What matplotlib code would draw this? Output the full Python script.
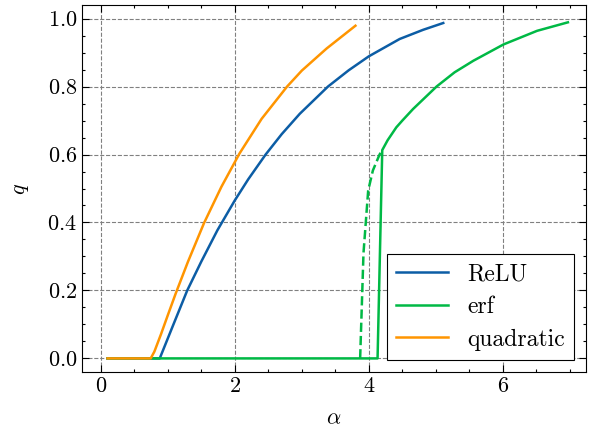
import matplotlib
matplotlib.use("Agg")
import matplotlib.pyplot as plt
from matplotlib.ticker import MultipleLocator

plt.rcParams["font.family"] = "serif"
plt.rcParams["font.serif"] = ["cmr10"]
plt.rcParams["mathtext.fontset"] = "cm"
plt.rcParams["axes.formatter.use_mathtext"] = True
plt.rcParams["font.size"] = 16

relu_x = [0.1, 0.5, 0.88, 1.07, 1.29, 1.5, 1.74, 2.0, 2.2, 2.46, 2.7, 2.97,
          3.39, 3.7, 4.0, 4.46, 4.81, 5.11]
relu_y = [0.0, 0.0, 0.0, 0.093, 0.2, 0.285, 0.377, 0.465, 0.527, 0.6, 0.66, 0.72,
          0.8, 0.848, 0.889, 0.94, 0.967, 0.987]

erf_x = [0.1, 2.0, 4.13, 4.2, 4.28, 4.41, 4.5, 4.66, 5.01, 5.28, 5.56, 6.01, 6.51, 6.97]
erf_y = [0.0, 0.0, 0.0, 0.613, 0.642, 0.68, 0.70, 0.734, 0.8, 0.842, 0.876, 0.924, 0.964, 0.989]

erf_meta_x = [3.87, 3.92, 3.99, 4.06, 4.16, 4.2]
erf_meta_y = [0.0, 0.31, 0.494, 0.553, 0.6, 0.613]

quad_x = [0.1, 0.745, 0.80, 0.9, 1.0, 1.12, 1.3, 1.54, 1.8, 2.07, 2.4, 2.78, 3.0, 3.37, 3.80]
quad_y = [0.0, 0.0, 0.02, 0.072, 0.127, 0.192, 0.284, 0.398, 0.505, 0.603, 0.705, 0.8,
          0.847, 0.912, 0.979]

c_relu, c_erf, c_quad = "#0C5DA5", "#00B945", "#FF9500"

fig = plt.figure(figsize=(6, 4.33), dpi=100)
ax = fig.add_axes([82 / 600, 1 - 372 / 433, (586 - 82) / 600, (372 - 5) / 433])

ax.plot(relu_x, relu_y, color=c_relu, lw=1.8, label="ReLU")
ax.plot(erf_x, erf_y, color=c_erf, lw=1.8, label="erf")
ax.plot(erf_meta_x, erf_meta_y, color=c_erf, lw=1.8, ls="--")
ax.plot(quad_x, quad_y, color=c_quad, lw=1.8, label="quadratic")

ax.set_xlim(-0.28, 7.24)
ax.set_ylim(-0.04, 1.04)
ax.set_xlabel(r"$\alpha$", labelpad=9)
ax.set_ylabel(r"$q$", labelpad=12)

ax.xaxis.set_major_locator(MultipleLocator(2))
ax.xaxis.set_minor_locator(MultipleLocator(0.5))
ax.yaxis.set_major_locator(MultipleLocator(0.2))
ax.yaxis.set_minor_locator(MultipleLocator(0.05))
ax.tick_params(which="both", direction="in", top=True, right=True)
ax.tick_params(which="major", length=5, width=0.8)
ax.tick_params(which="minor", length=2.5, width=0.8)

ax.grid(True, which="major", ls="--", color="gray", lw=0.8)

leg = ax.legend(loc="lower right", fancybox=False, edgecolor="black", framealpha=1,
                fontsize=17, handlelength=2.2, labelspacing=0.45)
leg.get_frame().set_linewidth(0.8)

fig.savefig("out.png", dpi=100)
